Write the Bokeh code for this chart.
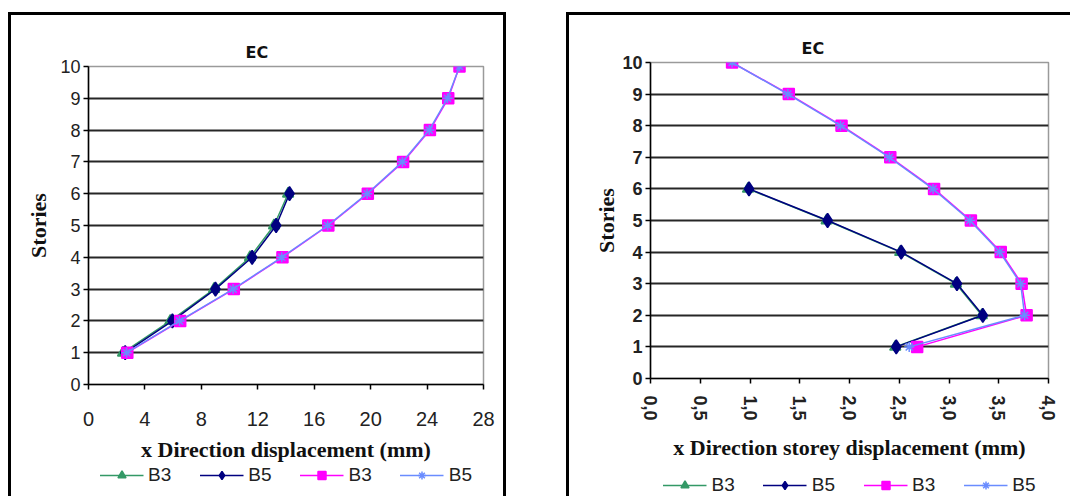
from bokeh.plotting import figure
from bokeh.models import Legend, LegendItem, FixedTicker, Range1d, Spacer
from bokeh.layouts import row, column
from bokeh.embed import file_html
from bokeh.resources import INLINE

# ---------------- data ----------------
stories_short = [1, 2, 3, 4, 5, 6]
stories_tall = [1, 2, 3, 4, 5, 6, 7, 8, 9, 10]

# left chart: total x displacement (mm)
left_b3_short = [2.45, 5.8, 8.9, 11.45, 13.15, 14.15]
left_b5_short = [2.6, 5.95, 9.0, 11.6, 13.3, 14.25]
left_b3_tall = [2.75, 6.5, 10.3, 13.75, 17.0, 19.8, 22.3, 24.2, 25.5, 26.3]
left_b5_tall = [2.7, 6.45, 10.25, 13.7, 16.95, 19.75, 22.25, 24.15, 25.45, 26.3]

# right chart: storey displacement (mm)
right_b3_short = [2.46, 3.33, 3.07, 2.51, 1.77, 0.98]
right_b5_short = [2.47, 3.34, 3.08, 2.52, 1.78, 0.99]
right_b3_tall = [2.68, 3.78, 3.73, 3.52, 3.22, 2.85, 2.41, 1.92, 1.39, 0.82]
right_b5_tall = [2.6, 3.76, 3.72, 3.51, 3.21, 2.84, 2.40, 1.91, 1.38, 0.82]

left_x_ticks = [0, 4, 8, 12, 16, 20, 24, 28]
right_x_ticks = [0, 0.5, 1.0, 1.5, 2.0, 2.5, 3.0, 3.5, 4.0]
right_x_labels = ["0,0", "0,5", "1,0", "1,5", "2,0", "2,5", "3,0", "3,5", "4,0"]
y_ticks = [0, 1, 2, 3, 4, 5, 6, 7, 8, 9, 10]
grid_ticks = [1, 2, 3, 4, 5, 6, 7, 8, 9]

series_labels = ["B3", "B5", "B3", "B5"]

GREEN = "#339966"
NAVY = "#000080"
MAGENTA = "#FF00FF"
LBLUE = "#6A8CFF"

STYLES = [
    dict(line_color=GREEN, marker="triangle", size=11, fill_color=GREEN),
    dict(line_color=NAVY, marker="diamond", size=14, fill_color=NAVY),
    dict(line_color=MAGENTA, marker="square", size=11, fill_color=MAGENTA),
    dict(line_color=LBLUE, marker="asterisk", size=10, fill_color=LBLUE),
]


def add_series(p, xs, ys, st):
    r = p.line(xs, ys, line_color=st["line_color"], line_width=1.5)
    m = p.scatter(xs, ys, marker=st["marker"], size=st["size"],
                  fill_color=st["fill_color"], line_color=st["line_color"], line_width=1.5)
    return r, m


def make_fig(x_end, xticks, xlabel, min_left, fw, min_right, min_top, fh,
             title_offset, frame_css, data, rotate):
    p = figure(frame_width=fw, frame_height=fh,
               x_range=Range1d(0, x_end), y_range=Range1d(0, 10),
               output_backend="svg", toolbar_location=None,
               min_border_left=min_left, min_border_right=min_right,
               min_border_top=min_top, min_border_bottom=0,
               background_fill_color="white", border_fill_color="white",
               border_fill_alpha=0)
    p.styles = {"box-shadow": frame_css}
    p.title.text = "EC"
    p.title.align = "left"
    p.title.offset = title_offset
    p.title.text_font = "DejaVu Sans"
    p.title.text_font_style = "bold"
    p.title.text_font_size = "16px"
    p.title.text_color = "#111111"

    p.outline_line_color = "#9a9a9a"
    p.outline_line_width = 1.5

    p.xgrid.visible = False
    p.ygrid.ticker = FixedTicker(ticks=grid_ticks)
    p.ygrid.grid_line_color = "#262626"
    p.ygrid.grid_line_width = 2.2

    for ax in (p.xaxis[0], p.yaxis[0]):
        ax.axis_line_color = "black"
        ax.axis_line_width = 1.5
        ax.major_tick_line_color = "black"
        ax.major_tick_line_width = 1.5
        ax.major_tick_in = 0
        ax.major_tick_out = 5
        ax.minor_tick_line_color = None
        ax.major_label_text_font = "Liberation Sans"
        ax.major_label_text_color = "#222222"
        ax.major_label_text_font_style = "bold" if rotate else "normal"
        ax.axis_label_text_font = "Liberation Serif"
        ax.axis_label_text_font_style = "bold"
        ax.axis_label_text_font_size = "22px"
        ax.axis_label_text_color = "#111111"

    p.xaxis.ticker = FixedTicker(ticks=xticks)
    p.yaxis.ticker = FixedTicker(ticks=y_ticks)
    p.xaxis.axis_label = xlabel
    p.yaxis.axis_label = "Stories"
    p.yaxis.major_label_text_font_size = "18px"
    p.yaxis.major_label_standoff = 3

    if rotate:
        p.xaxis.major_label_orientation = "vertical"
        p.xaxis.major_label_overrides = dict(zip(right_x_ticks, right_x_labels))
        p.xaxis.major_label_text_font_size = "18px"
        p.xaxis.major_label_standoff = 12
        p.xaxis.axis_label_standoff = 11
        p.yaxis.axis_label_standoff = 0
    else:
        p.xaxis.major_label_text_font_size = "20px"
        p.xaxis.major_label_standoff = 22
        p.xaxis.axis_label_standoff = 8
        p.yaxis.axis_label_standoff = 6

    b3s, b5s, b3t, b5t = data
    add_series(p, b3s, stories_short, STYLES[0])
    add_series(p, b5s, stories_short, STYLES[1])
    add_series(p, b3t, stories_tall, STYLES[2])
    add_series(p, b5t, stories_tall, STYLES[3])
    return p


def make_legend_fig(width, height, left_pad, top_pad, frame_css, data):
    # legend-only strip: the series are attached but lie outside its (empty) view
    lf = figure(width=width, height=height, x_range=Range1d(0, 1), y_range=Range1d(-2, -1),
                x_axis_location=None, y_axis_location=None,
                output_backend="svg", toolbar_location=None,
                min_border_left=left_pad, min_border_right=0,
                min_border_top=top_pad, min_border_bottom=0,
                border_fill_alpha=0, background_fill_alpha=0,
                outline_line_color=None)
    lf.styles = {"box-shadow": frame_css}
    lf.grid.visible = False
    items = []
    ys = [stories_short, stories_short, stories_tall, stories_tall]
    for lab, st, xs, yy in zip(series_labels, STYLES, data, ys):
        r, m = add_series(lf, xs, yy, st)
        items.append(LegendItem(label=lab, renderers=[r, m]))
    legend = Legend(items=items, orientation="horizontal", location="top_center")
    legend.label_text_font = "Liberation Sans"
    legend.label_text_font_size = "19px"
    legend.label_text_color = "#222222"
    legend.glyph_width = 44
    legend.label_standoff = 5
    legend.spacing = 28
    legend.padding = 0
    legend.margin = 0
    legend.border_line_alpha = 0
    legend.background_fill_alpha = 0
    lf.add_layout(legend, "center")
    return lf


left_data = (left_b3_short, left_b5_short, left_b3_tall, left_b5_tall)
right_data = (right_b3_short, right_b5_short, right_b3_tall, right_b5_tall)

left = make_fig(28, left_x_ticks, "x Direction displacement (mm)",
                80, 395, 23, 54, 318, 157,
                "inset 3px 3px 0 0 black, inset -3px 0 0 0 black", left_data, False)
right = make_fig(4, right_x_ticks, "x Direction storey displacement (mm)",
                 84, 398, 22, 50, 316, 151,
                 "inset 3px 3px 0 0 black", right_data, True)

left_leg = make_legend_fig(498, 32, 80, 0,
                           "inset 3px 0 0 0 black, inset -3px 0 0 0 black", left_data)
right_leg = make_legend_fig(504, 34, 84, 12, "inset 3px 0 0 0 black", right_data)

layout = row(Spacer(width=8),
             column(Spacer(height=12), left, left_leg),
             Spacer(width=60),
             column(Spacer(height=12), right, right_leg))
open("out.html", "w").write(file_html(layout, INLINE))
